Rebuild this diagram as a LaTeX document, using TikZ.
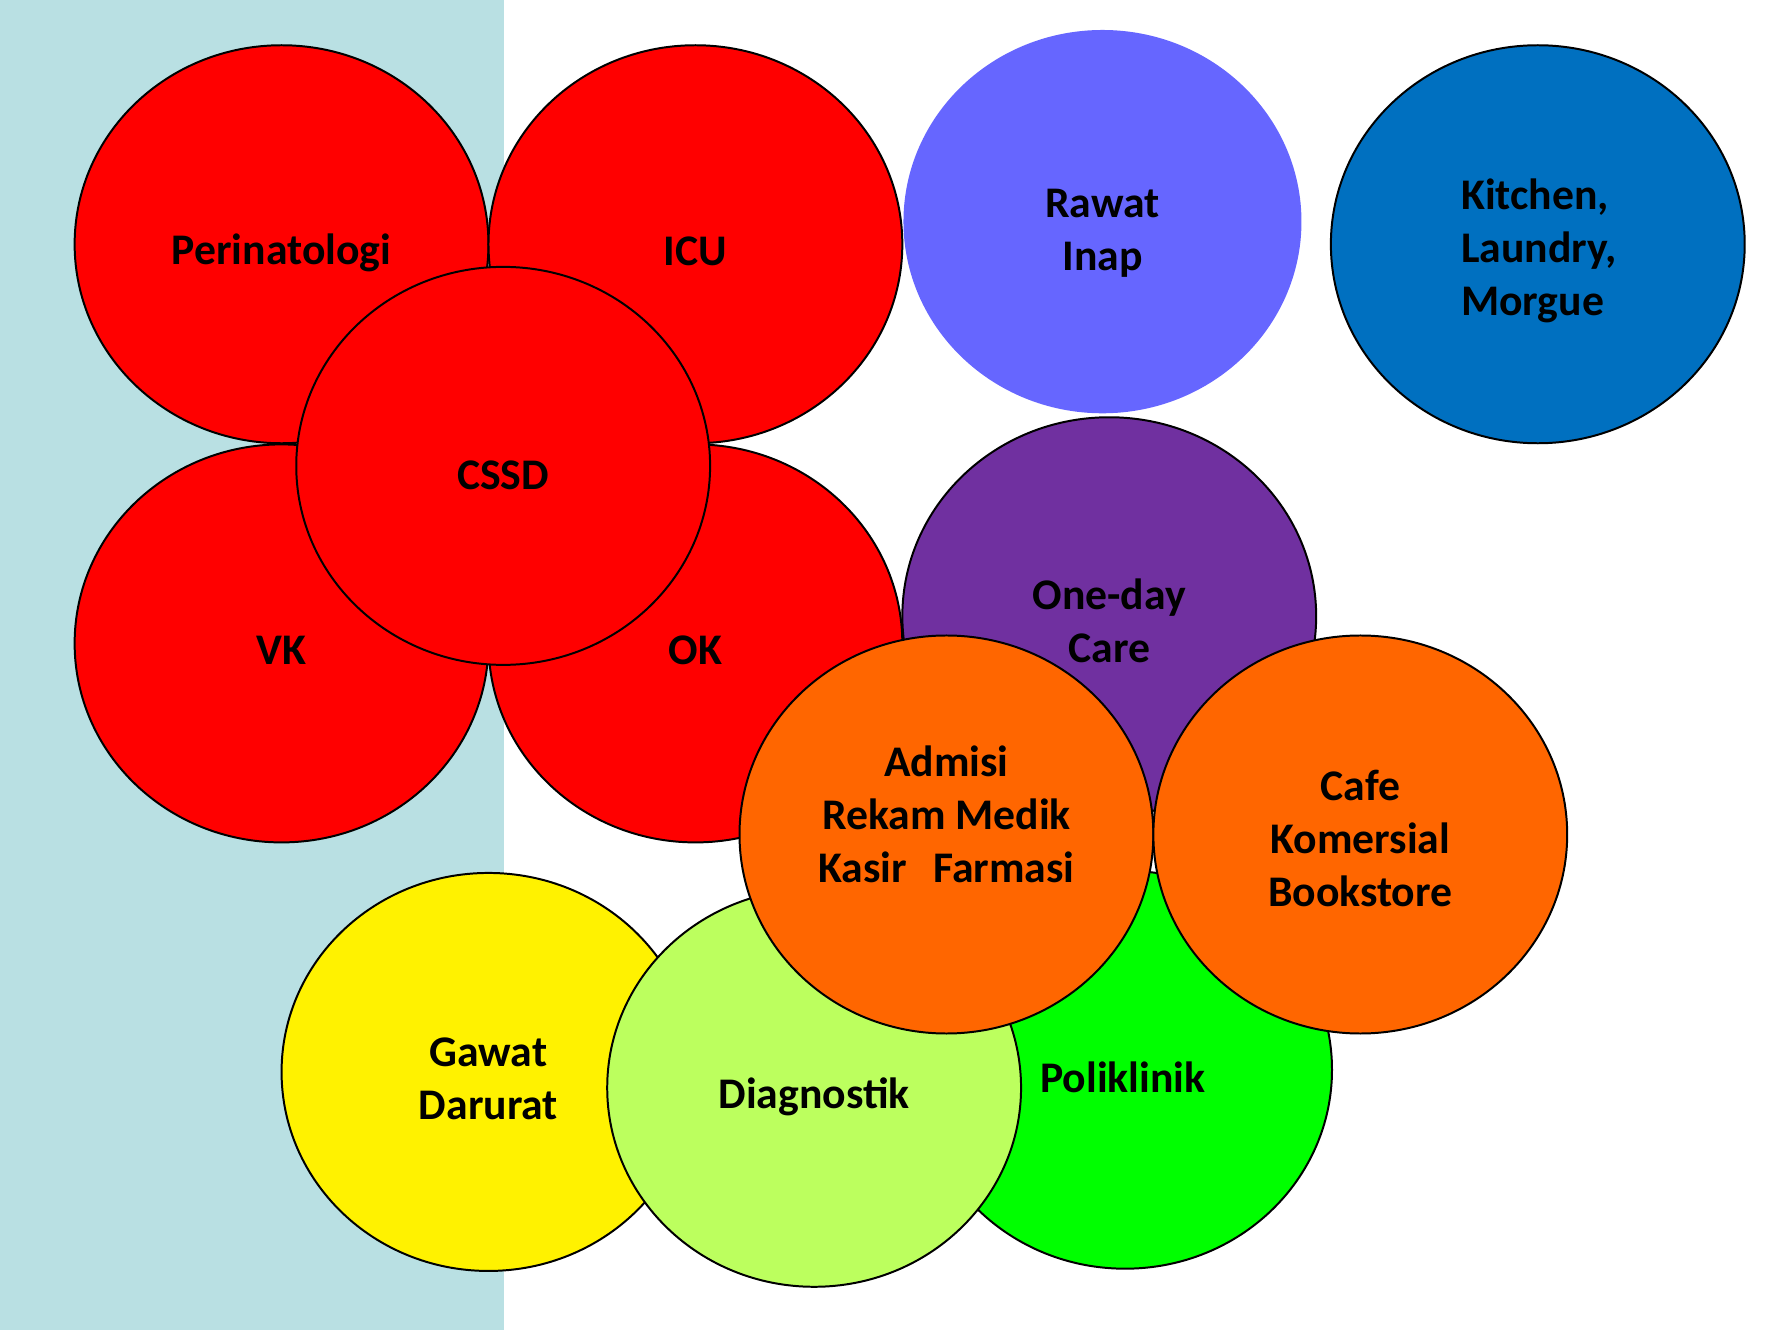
\documentclass[tikz,border=0pt]{standalone}
\usepackage{fontspec}
\setmainfont{Carlito}
\usepackage{tikz}
\usetikzlibrary{shapes.geometric}
\usepackage{xcolor}

\definecolor{sidebg}{RGB}{185,224,227}
\definecolor{rawat}{RGB}{102,102,255}
\definecolor{kitchen}{RGB}{0,112,192}
\definecolor{oneday}{RGB}{112,48,160}
\definecolor{admisi}{RGB}{255,102,0}
\definecolor{diagn}{RGB}{188,255,94}

\tikzset{
	zone/.style={ellipse, draw=black, line width=0.5pt, inner sep=0pt,
		minimum width=36.6mm, minimum height=35.2mm},
	zonetext/.style={align=center, font=\fontsize{11}{13.4}\selectfont\bfseries}
}

\begin{document}
\begin{tikzpicture}[x=0.1mm, y=-0.1mm] % zoning of the hospital units
	
	\useasboundingbox (0,0) rectangle (1568,1176);
	
	%background strip
	\fill[sidebg] (0,0) rectangle (446,1176);
	
	%surgical cluster
	\node[zone, fill=red] (peri) at (249,216) {};
	\node[zone, fill=red] (icu) at (615,216) {};
	\node[zone, fill=red] (vk) at (249,569) {};
	\node[zone, fill=red] (ok) at (615,569) {};
	\node[zone, fill=red] (cssd) at (445,412) {};
	
	%wards and services
	\node[zone, fill=rawat, draw=none, minimum width=35.2mm, minimum height=33.9mm] (rawat) at (975,196) {};
	\node[zone, fill=kitchen] (kitchen) at (1360,216) {};
	\node[zone, fill=oneday] (oneday) at (981,545) {};
	
	%front units
	\node[zone, fill=yellow] (ugd) at (432,948) {};
	\node[zone, fill=green] (poli) at (995,946) {};
	\node[zone, fill=diagn] (diagn) at (720,962) {};
	\node[zone, fill=admisi] (admisi) at (837,738) {};
	\node[zone, fill=admisi] (cafe) at (1203,738) {};
	
	%labels
	\node[zonetext] (perilbl) at ([yshift=-0.8mm]peri) {Perinatologi};
	\node[zonetext] (iculbl) at ([yshift=-0.6mm]icu) {ICU};
	\node[zonetext] (cssdlbl) at ([yshift=-0.8mm]cssd) {CSSD};
	\node[zonetext] (vklbl) at ([yshift=-0.6mm]vk) {VK};
	\node[zonetext] (oklbl) at ([yshift=-0.6mm]ok) {OK};
	\node[zonetext] (rawatlbl) at ([yshift=-1mm]rawat) {Rawat\\Inap};
	\node[zonetext, align=left] (kitchenlbl) at ([xshift=0.1mm, yshift=-0.6mm]kitchen) {Kitchen,\\Laundry,\\Morgue};
	\node[zonetext] (onedaylbl) at ([yshift=-0.4mm]oneday) {One-day\\Care};
	\node[zonetext] (ugdlbl) at ([yshift=-0.6mm]ugd) {Gawat\\Darurat};
	\node[zonetext] (diagnlbl) at ([yshift=-0.8mm]diagn) {Diagnostik};
	\node[zonetext] (polilbl) at ([xshift=-0.2mm, yshift=-0.7mm]poli) {Poliklinik};
	\node[zonetext] (admisilbl) at ([yshift=1.8mm]admisi) {Admisi\\Rekam Medik\\Kasir\hspace{0.6em}Farmasi};
	\node[zonetext] (cafelbl) at ([yshift=-0.35mm]cafe) {Cafe\\Komersial\\Bookstore};
	
\end{tikzpicture}
\end{document}
